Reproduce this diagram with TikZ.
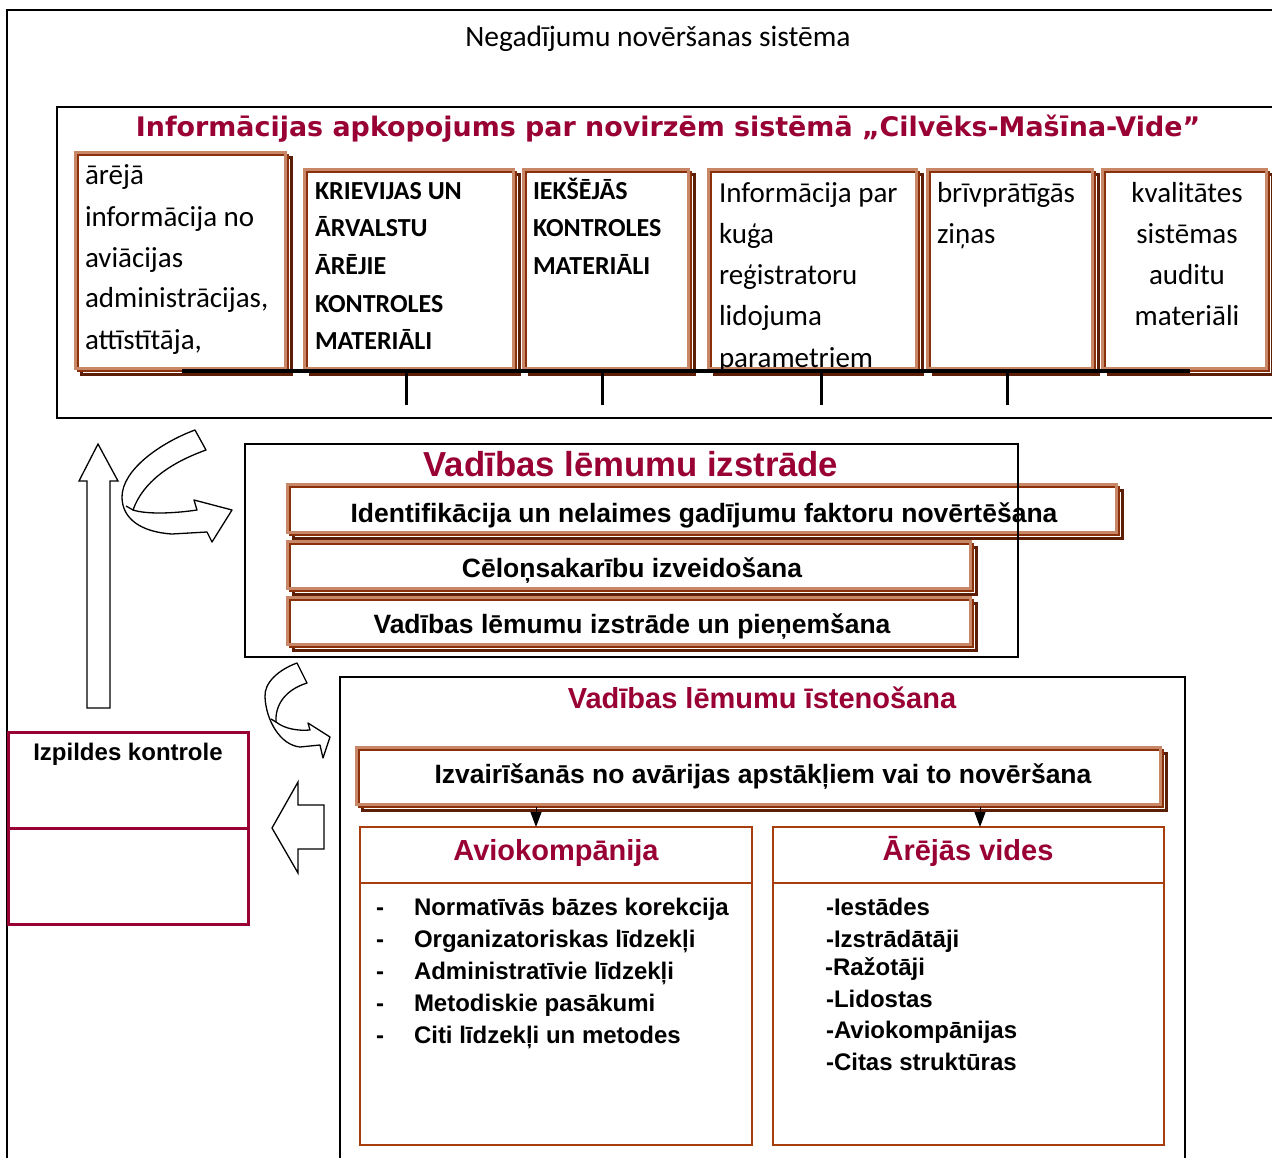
\documentclass[tikz,border=0pt]{standalone}
\usepackage{fontspec}
\setmainfont{Liberation Sans}
\newfontfamily\calfont{Carlito}
\newfontfamily\verfont{DejaVu Sans}
\usetikzlibrary{arrows.meta,fit}
\definecolor{crim}{RGB}{153,0,51}
\definecolor{brlight}{RGB}{200,136,104}
\definecolor{brdark}{RGB}{138,48,10}
\definecolor{brshadow}{RGB}{92,30,6}
\definecolor{sienna}{RGB}{168,62,14}
\newcommand{\fs}[1]{\fontsize{#1}{#1}\selectfont}
\begin{document}
\begin{tikzpicture}[x=1pt,y=-1pt,
  frame/.style={draw=black,line width=2pt},
  txt/.style={inner sep=0pt,outer sep=0pt},
  dblbox/.style={inner sep=0pt,outer sep=0pt,fill=white,draw=brdark,line width=2.8pt,
    preaction={draw=brshadow,line width=3pt,transform canvas={xshift=3pt,yshift=-3pt}},
    postaction={draw=brlight,line width=3.5pt,transform canvas={xshift=-2.5pt,yshift=2.5pt}}},
  cell/.style={inner sep=0pt,outer sep=0pt,draw=sienna,line width=2pt},
  ctrl/.style={inner sep=0pt,outer sep=0pt,draw=crim,line width=3pt},
  block/.style={draw=black,fill=white,line width=1.3pt,line join=miter},
  calr/.style={txt,anchor=base west,font=\calfont\fs{29}},
  calb/.style={txt,anchor=base west,font=\calfont\bfseries\fs{26}},
  head/.style={txt,anchor=base,font=\bfseries\fs{29},text=crim},
  item/.style={txt,anchor=base,font=\bfseries\fs{26.5}},
  li/.style={txt,anchor=base west,font=\bfseries\fs{24}},
  tick/.style={draw=black,line width=3pt},
  down/.style={draw=black,line width=1pt,-{Triangle[width=11pt,length=15pt]}}]
\clip (0,0) rectangle (1272,1158);
\fill[white] (0,0) rectangle (1272,1158);

% outer frame and its title
\draw[frame] (7,1170) -- (7,10) -- (1290,10);
\node[txt,anchor=base,font=\calfont\fs{29.5}] (sys) at (658,47) {Negadījumu novēršanas sistēma};

% information summary block
\node[frame,inner sep=0pt,fit={(57,107) (1290,418)}] (info) {};
\node[txt,anchor=base,font=\verfont\bfseries\fs{26.9},text=crim] (infot) at (668,137)
  {Informācijas apkopojums par novirzēm sistēmā „Cilvēks-Mašīna-Vide”};

\node[dblbox,fit={(78,155) (288,371)}] (s1) {};
\node[dblbox,fit={(307,172) (516,371)}] (s2) {};
\node[dblbox,fit={(526,172) (691,371)}] (s3) {};
\node[dblbox,fit={(711,172) (919,371)}] (s4) {};
\node[dblbox,fit={(930,172) (1095,371)}] (s5) {};
\node[dblbox,fit={(1105,172) (1269,371)}] (s6) {};

\node[calr] (s1a) at (85,185) {ārējā};
\node[calr] (s1b) at (85,227) {informācija no};
\node[calr] (s1c) at (85,268) {aviācijas};
\node[calr] (s1d) at (85,308) {administrācijas,};
\node[calr] (s1e) at (85,350) {attīstītāja,};

\node[calb] (s2a) at (315,200) {KRIEVIJAS UN};
\node[calb] (s2b) at (315,237) {ĀRVALSTU};
\node[calb] (s2c) at (315,275) {ĀRĒJIE};
\node[calb] (s2d) at (315,313) {KONTROLES};
\node[calb] (s2e) at (315,350) {MATERIĀLI};

\node[calb] (s3a) at (533,200) {IEKŠĒJĀS};
\node[calb] (s3b) at (533,237) {KONTROLES};
\node[calb] (s3c) at (533,275) {MATERIĀLI};

\node[calr] (s4a) at (719,203) {Informācija par};
\node[calr] (s4b) at (719,244) {kuģa};
\node[calr] (s4c) at (719,285) {reģistratoru};
\node[calr] (s4d) at (719,326) {lidojuma};
\node[calr] (s4e) at (719,367) {parametriem};

\node[calr] (s5a) at (937,203) {brīvprātīgās};
\node[calr] (s5b) at (937,244) {ziņas};

\node[calr,anchor=base] (s6a) at (1187,203) {kvalitātes};
\node[calr,anchor=base] (s6b) at (1187,244) {sistēmas};
\node[calr,anchor=base] (s6c) at (1187,285) {auditu};
\node[calr,anchor=base] (s6d) at (1187,326) {materiāli};

% collecting bar with its ticks
\coordinate (barL) at (182,371);
\coordinate (barR) at (1190,371);
\draw[draw=black,line width=3.5pt] (barL) -- (barR);
\foreach \x [count=\i] in {406,602,821,1007} {
  \coordinate (t\i) at (\x,405);
  \draw[tick] (barL -| t\i) -- (t\i);
}

% decision development block
\node[dblbox,fit={(290,487) (1119,535)}] (d1) {};
\node[dblbox,fit={(290,544) (973,591)}] (d2) {};
\node[dblbox,fit={(290,600) (973,647)}] (d3) {};
\node[frame,inner sep=0pt,fit={(245,444) (1018,657)}] (dev) {};
\node[head,font=\bfseries\fs{34.7}] (devt) at (631,476) {Vadības lēmumu izstrāde};
\node[item] (d1t) at (704,522) {Identifikācija un nelaimes gadījumu faktoru novērtēšana};
\node[item] (d2t) at (632,577) {Cēloņsakarību izveidošana};
\node[item] (d3t) at (632,633) {Vadības lēmumu izstrāde un pieņemšana};

% implementation block
\node[frame,inner sep=0pt,fit={(340,677) (1185,1175)}] (impl) {};
\node[head] (implt) at (762,708) {Vadības lēmumu īstenošana};
\node[dblbox,fit={(359,750) (1163,807)}] (av) {};
\node[item] (avt) at (763,783) {Izvairīšanās no avārijas apstākļiem vai to novēršana};

\node[cell,fit={(360,827) (752,883)}] (ah) {};
\node[cell,fit={(360,883) (752,1145)}] (ab) {};
\node[cell,fit={(773,827) (1164,883)}] (eh) {};
\node[cell,fit={(773,883) (1164,1145)}] (eb) {};
\node[head] (aht) at (556,860) {Aviokompānija};
\node[head] (eht) at (968,860) {Ārējās vides};

\coordinate (ax) at (536,0);
\coordinate (ex) at (980,0);
\draw[down] (av.south -| ax) -- (ah.north -| ax);
\draw[down] (av.south -| ex) -- (eh.north -| ex);

\foreach \t [count=\i] in {Normatīvās bāzes korekcija,Organizatoriskas līdzekļi,
    Administratīvie līdzekļi,Metodiskie pasākumi,Citi līdzekļi un metodes} {
  \node[li] (ad\i) at (376,{883+32*\i}) {-};
  \node[li] (al\i) at (414,{883+32*\i}) {\t};
}
\node[li] (e1) at (826,915) {-Iestādes};
\node[li] (e2) at (826,947) {-Izstrādātāji};
\node[li] (e3) at (825,975) {-Ražotāji};
\node[li] (e4) at (826,1007) {-Lidostas};
\node[li] (e5) at (826,1038) {-Aviokompānijas};
\node[li] (e6) at (826,1070) {-Citas struktūras};

% execution control
\node[ctrl,fit={(8,732) (248,828)}] (c1) {};
\node[ctrl,fit={(8,828) (248,924)}] (c2) {};
\node[li,anchor=base] (c1t) at (128,760) {Izpildes kontrole};

% block arrows
\draw[block] (87,708) -- (87,481) -- (79,481) -- (98,444) -- (118,481) -- (110,481) -- (110,708) -- cycle;
\draw[block] (324,805) -- (298,805) -- (298,782) -- (272,828) -- (298,873) -- (298,849) -- (324,849) -- cycle;

% curved arrows
\draw[block,line join=round] (195,430) .. controls (160,443) and (122,470) .. (122,497)
  .. controls (122,518) and (140,532) .. (172,534) -- (207,532) -- (212,542) -- (232,510)
  -- (194,500) -- (197,510) .. controls (170,514) and (145,514) .. (133,510)
  .. controls (143,482) and (170,463) .. (206,450) -- cycle;
\draw[black,line width=1.3pt] (133,510) -- (126,506);

\draw[block,line join=round] (297,663) .. controls (278,670) and (264,683) .. (265,697)
  .. controls (266,720) and (280,745) .. (300,747) -- (320,745) -- (323,758) -- (330,737)
  -- (308,723) -- (310,730) .. controls (298,731) and (285,729) .. (276,722)
  .. controls (275,705) and (285,690) .. (307,683) -- cycle;
\draw[black,line width=1.3pt] (276,722) -- (271,719);
\end{tikzpicture}
\end{document}
